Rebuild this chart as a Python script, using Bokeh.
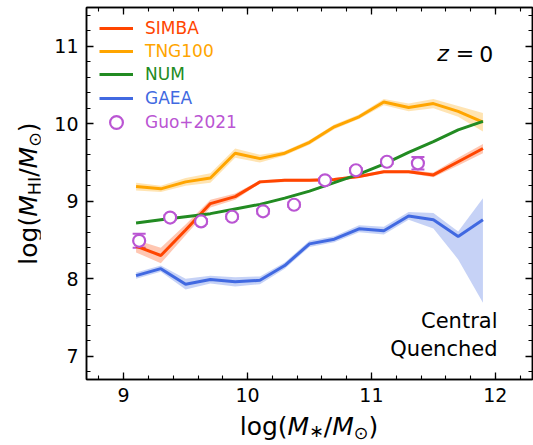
from bokeh.plotting import figure
from bokeh.layouts import row, column
from bokeh.models import (Range1d, LinearAxis, SingleIntervalTicker, Legend, LegendItem,
                          Label, Whisker, TeeHead, ColumnDataSource, Div)
from bokeh.embed import file_html
from bokeh.resources import INLINE

# ---------------- data ----------------
mstar = [9.1, 9.3, 9.5, 9.7, 9.9, 10.1, 10.3, 10.5, 10.7, 10.9, 11.1, 11.3, 11.5, 11.7, 11.9]

simba = [8.42, 8.30, 8.63, 8.97, 9.06, 9.25, 9.27, 9.27, 9.28, 9.32, 9.38, 9.38, 9.34, 9.51, 9.68]
simba_err = [0.08, 0.10, 0.07, 0.05, 0.04, 0.02, 0.02, 0.02, 0.02, 0.02, 0.02, 0.02, 0.03, 0.05, 0.06]

tng = [9.19, 9.16, 9.25, 9.30, 9.62, 9.55, 9.62, 9.76, 9.96, 10.09, 10.28, 10.21, 10.26, 10.16, 10.02]
tng_err = [0.05, 0.04, 0.05, 0.06, 0.06, 0.05, 0.03, 0.03, 0.03, 0.03, 0.04, 0.05, 0.06, 0.07, 0.12]

num = [8.72, 8.76, 8.80, 8.84, 8.90, 8.96, 9.04, 9.13, 9.24, 9.35, 9.48, 9.63, 9.77, 9.92, 10.03]
num_err = [0.01] * 15

gaea = [8.04, 8.13, 7.93, 7.99, 7.96, 7.98, 8.17, 8.45, 8.51, 8.645, 8.62, 8.81, 8.76, 8.545, 8.76]
gaea_lo = [8.00, 8.09, 7.86, 7.94, 7.90, 7.93, 8.13, 8.41, 8.47, 8.60, 8.57, 8.76, 8.65, 8.25, 7.69]
gaea_hi = [8.08, 8.17, 8.00, 8.04, 8.02, 8.03, 8.21, 8.49, 8.55, 8.69, 8.67, 8.86, 8.85, 8.61, 9.04]

guo_x = [9.125, 9.375, 9.625, 9.875, 10.125, 10.375, 10.625, 10.875, 11.125, 11.375]
guo_y = [8.49, 8.79, 8.74, 8.80, 8.87, 8.955, 9.27, 9.40, 9.51, 9.49]
guo_err = [0.09, 0.03, 0.03, 0.03, 0.03, 0.03, 0.03, 0.03, 0.03, 0.08]

series_names = ["SIMBA", "TNG100", "NUM", "GAEA", "Guo+2021"]
colors = ["orangered", "orange", "forestgreen", "royalblue", "mediumorchid"]

x_ticks_interval = 1
y_ticks_interval = 1

FONT = "DejaVu Sans"

# ---------------- figure ----------------
FIG_W, FIG_H = 493, 414
YDIV_W = 533 - FIG_W
XDIV_H = 445 - FIG_H

p = figure(width=FIG_W, height=FIG_H, x_range=Range1d(8.7, 12.3), y_range=Range1d(6.7, 11.5),
           output_backend="svg", toolbar_location=None,
           min_border_left=86 - YDIV_W, min_border_right=1, min_border_top=7,
           min_border_bottom=FIG_H - 379)
p.xgrid.visible = False
p.ygrid.visible = False
p.outline_line_color = "black"
p.outline_line_width = 1.5
p.background_fill_color = "white"
p.border_fill_color = "white"


def style_axis(ax, show_labels):
    ax.axis_line_width = 1.5
    ax.axis_line_color = "black"
    ax.major_tick_in = 7
    ax.major_tick_out = 0
    ax.minor_tick_in = 4
    ax.minor_tick_out = 0
    ax.major_tick_line_width = 1.3
    ax.minor_tick_line_width = 1.1
    ax.major_tick_line_color = "black"
    ax.minor_tick_line_color = "black"
    ax.axis_label = None
    if show_labels:
        ax.major_label_text_font = FONT
        ax.major_label_text_font_size = "19px"
        ax.major_label_text_color = "black"
        ax.major_label_standoff = 8
    else:
        ax.major_label_text_font_size = "1px"
        ax.major_label_text_color = None
        ax.major_label_text_alpha = 0
        ax.major_label_standoff = 0


p.xaxis.ticker = SingleIntervalTicker(interval=x_ticks_interval, num_minor_ticks=5)
p.yaxis.ticker = SingleIntervalTicker(interval=y_ticks_interval, num_minor_ticks=5)
style_axis(p.xaxis[0], True)
style_axis(p.yaxis[0], True)

top_ax = LinearAxis(ticker=SingleIntervalTicker(interval=x_ticks_interval, num_minor_ticks=5))
right_ax = LinearAxis(ticker=SingleIntervalTicker(interval=y_ticks_interval, num_minor_ticks=5))
style_axis(top_ax, False)
style_axis(right_ax, False)
p.add_layout(top_ax, "above")
p.add_layout(right_ax, "right")

# ---------------- bands ----------------
def band(lo, hi, color):
    p.varea(x=mstar, y1=lo, y2=hi, fill_color=color, fill_alpha=0.3)

band([v - e for v, e in zip(simba, simba_err)], [v + e for v, e in zip(simba, simba_err)], colors[0])
band([v - e for v, e in zip(tng, tng_err)], [v + e for v, e in zip(tng, tng_err)], colors[1])
band([v - e for v, e in zip(num, num_err)], [v + e for v, e in zip(num, num_err)], colors[2])
band(gaea_lo, gaea_hi, colors[3])

# ---------------- lines ----------------
r_simba = p.line(mstar, simba, line_color=colors[0], line_width=3)
r_tng = p.line(mstar, tng, line_color=colors[1], line_width=3)
r_num = p.line(mstar, num, line_color=colors[2], line_width=3)
r_gaea = p.line(mstar, gaea, line_color=colors[3], line_width=3)

# ---------------- Guo+2021 points ----------------
src = ColumnDataSource(dict(x=guo_x, y=guo_y,
                            lo=[v - e for v, e in zip(guo_y, guo_err)],
                            hi=[v + e for v, e in zip(guo_y, guo_err)]))
wh = Whisker(source=src, base="x", lower="lo", upper="hi", dimension="height",
             line_color=colors[4], line_width=2,
             upper_head=TeeHead(size=13, line_color=colors[4], line_width=2),
             lower_head=TeeHead(size=13, line_color=colors[4], line_width=2))
p.add_layout(wh)
r_guo = p.scatter("x", "y", source=src, marker="circle", size=12, line_color=colors[4],
                  line_width=2.2, fill_color="white")

# ---------------- legends (one per entry, coloured text) ----------------
renders = [r_simba, r_tng, r_num, r_gaea, r_guo]
row_centers = [21, 44, 67, 91, 115]   # px below frame top
glyph_heights = [20, 20, 20, 20, 32]
FRAME_H = 372
for name, col, rend, c, gh in zip(series_names, colors, renders, row_centers, glyph_heights):
    lg = Legend(items=[LegendItem(label=name, renderers=[rend])],
                location=(13, FRAME_H - c - gh / 2),
                label_text_color=col, label_text_font=FONT, label_text_font_size="17px",
                glyph_width=34, glyph_height=gh, label_height=gh, label_standoff=12,
                padding=0, margin=0, spacing=0, border_line_color=None,
                background_fill_alpha=0.0)
    p.add_layout(lg)

# ---------------- in-plot texts ----------------
def put(text, x, y, size, style="normal", align="left"):
    p.add_layout(Label(x=x, y=y, x_units="screen", y_units="screen", text=text,
                       text_font=FONT, text_font_size=f"{size}px", text_font_style=style,
                       text_align=align, text_baseline="alphabetic", text_color="black"))

put("z", 356.5, 325.7, 22, "italic", align="center")
put("=", 378.5, 325.7, 22, align="center")
put("0", 399.8, 325.7, 22, align="center")
put("Central", 411, 58.3, 21, align="right")
put("Quenched", 411, 31, 21, align="right")

# ---------------- axis labels as HTML text ----------------
SUB = "font-size:70%;position:relative;top:0.2em;"
SUB_AST = "font-size:70%;position:relative;top:0.12em;"
xlabel_html = ("log(<i>M</i><span style='" + SUB_AST + "'>\u2217</span>/<i>M</i>"
               "<span style='" + SUB + "'>\u2299</span>)")
ylabel_html = ("log(<i>M</i><span style='" + SUB + "'>HI</span>/<i>M</i>"
               "<span style='" + SUB + "'>\u2299</span>)")

base_style = ("font-family:'DejaVu Sans';font-size:25px;line-height:25px;color:black;"
              "white-space:nowrap;")

ydiv = Div(width=YDIV_W, height=FIG_H, margin=0,
           text=("<div style=\"position:relative;width:%dpx;height:%dpx;\">"
                 "<div style=\"position:absolute;left:-122px;top:181px;width:300px;height:25px;"
                 "text-align:center;transform:rotate(-90deg);transform-origin:50%% 50%%;%s\">%s</div>"
                 "</div>") % (YDIV_W, FIG_H, base_style, ylabel_html))

xdiv = Div(width=533, height=XDIV_H, margin=0,
           text=("<div style=\"width:533px;height:%dpx;box-sizing:border-box;padding-left:85px;"
                 "text-align:center;%s\">%s</div>") % (XDIV_H, base_style, xlabel_html))

layout = column(row(ydiv, p, spacing=0), xdiv, spacing=0)

open("out.html", "w").write(file_html(layout, INLINE))
